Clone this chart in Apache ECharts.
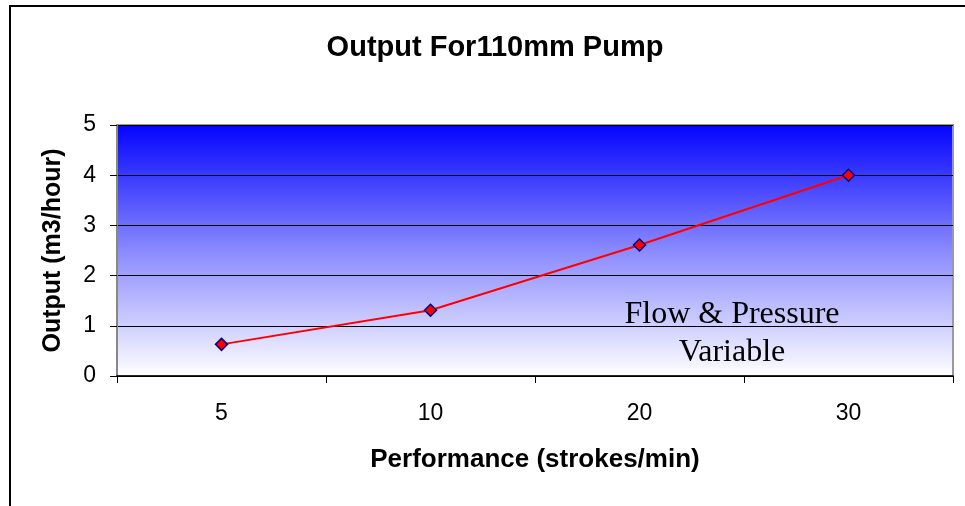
<!DOCTYPE html>
<html>
<head>
<meta charset="utf-8">
<script src="https://cdn.jsdelivr.net/npm/echarts@6/dist/echarts.min.js"></script>
<style>html,body{margin:0;padding:0;background:#fff}#c{width:965px;height:506px}</style>
</head>
<body>
<div id="c"></div>
<script>
const categories = ['5', '10', '20', '30'];
const outputValues = [0.63, 1.31, 2.61, 4.0];
const yTicks = [0, 1, 2, 3, 4, 5];
const titleText = 'Output For110mm Pump';
const xName = 'Performance (strokes/min)';
const yName = 'Output (m3/hour)';
const noteText = 'Flow & Pressure\nVariable';

const chart = echarts.init(document.getElementById('c'));
chart.setOption({
  animation: false,
  backgroundColor: '#ffffff',
  title: {
    text: titleText, left: 490, top: 28, textAlign: 'center',
    textStyle: { fontFamily: 'Liberation Sans, Arial', fontWeight: 'bold', fontSize: 29, color: '#000' }
  },
  grid: {
    left: 117, right: 12, top: 125, bottom: 130, show: true,
    backgroundColor: new echarts.graphic.LinearGradient(0, 0, 0, 1, [
      { offset: 0, color: '#0303ff' },
      { offset: 0.5, color: '#8a8aff' },
      { offset: 1, color: '#ffffff' }
    ]),
    borderColor: '#9a9a9a', borderWidth: 2
  },
  graphic: [
    { type: 'rect', shape: { x: 10, y: 6, width: 1000, height: 600 }, style: { fill: 'none', stroke: '#000', lineWidth: 2 }, silent: true, z: 0 },
    { type: 'text', x: 732, y: 296, z: 100,
      style: { text: noteText, fontFamily: 'Liberation Serif, Times New Roman', fontSize: 32, lineHeight: 38, fill: '#000', align: 'center', verticalAlign: 'top' } }
  ],
  xAxis: {
    type: 'category', data: categories, boundaryGap: true,
    name: xName, nameLocation: 'middle', nameGap: 71,
    nameTextStyle: { fontFamily: 'Liberation Sans, Arial', fontWeight: 'bold', fontSize: 26, color: '#000' },
    axisLine: { lineStyle: { color: '#000', width: 1.5 } },
    axisTick: { show: true, alignWithLabel: false, length: 7, lineStyle: { color: '#000' } },
    axisLabel: { margin: 26, fontFamily: 'Liberation Sans, Arial', fontSize: 23, color: '#000' },
    splitLine: { show: false }
  },
  yAxis: {
    type: 'value', min: yTicks[0], max: yTicks[yTicks.length - 1], interval: 1,
    name: yName, nameLocation: 'middle', nameGap: 51,
    nameTextStyle: { fontFamily: 'Liberation Sans, Arial', fontWeight: 'bold', fontSize: 25, color: '#000' },
    axisLine: { show: true, lineStyle: { color: '#888', width: 2 } },
    axisTick: { show: true, length: 7, lineStyle: { color: '#000' } },
    axisLabel: { margin: 21, fontFamily: 'Liberation Sans, Arial', fontSize: 23, color: '#000' },
    splitLine: { show: true, lineStyle: { color: '#000', width: 1 } }
  },
  series: [{
    type: 'line', data: outputValues,
    lineStyle: { color: '#ff0000', width: 2 },
    symbol: 'diamond', symbolSize: 12,
    itemStyle: { color: '#ff0000', borderColor: '#000080', borderWidth: 1.5 }
  }]
});
</script>
</body>
</html>
